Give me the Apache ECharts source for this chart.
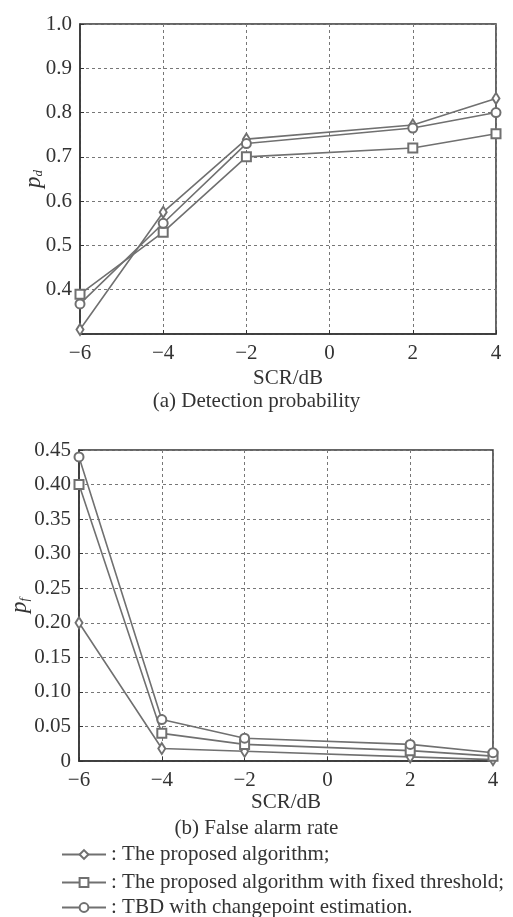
<!DOCTYPE html>
<html><head><meta charset="utf-8">
<script src="https://cdn.jsdelivr.net/npm/echarts@6/dist/echarts.min.js"></script>
<style>html,body{margin:0;padding:0;background:#fff}#c{width:513px;height:917px}</style>
</head><body><div id="c"></div>
<script>
const scr = [-6, -4, -2, 2, 4];
const names = ['The proposed algorithm', 'The proposed algorithm with fixed threshold', 'TBD with changepoint estimation'];
const legendText = [': The proposed algorithm;', ': The proposed algorithm with fixed threshold;', ': TBD with changepoint estimation.'];
const pdProposed = [0.31, 0.575, 0.74, 0.772, 0.832];
const pdFixed = [0.39, 0.53, 0.70, 0.72, 0.752];
const pdTBD = [0.368, 0.55, 0.73, 0.765, 0.80];
const pfProposed = [0.20, 0.018, 0.014, 0.006, 0.002];
const pfFixed = [0.40, 0.04, 0.024, 0.015, 0.007];
const pfTBD = [0.44, 0.06, 0.033, 0.024, 0.012];
const xTicks = [-6, -4, -2, 0, 2, 4];
const pdTicks = [0.4, 0.5, 0.6, 0.7, 0.8, 0.9, 1.0];
const pfTicks = [0, 0.05, 0.10, 0.15, 0.20, 0.25, 0.30, 0.35, 0.40, 0.45];

const FONT = 'Liberation Serif';
const FS = 21;
const GRAY = '#707070';
const symbols = ['emptyDiamond', 'emptyRect', 'emptyCircle'];
const symSizes = [[7, 11], 9, 9];

function pairs(ys) { return scr.map((x, i) => [x, ys[i]]); }
function xAxis(gi, gap) {
  return {
    type: 'value', gridIndex: gi, min: -6, max: 4, interval: 2,
    name: 'SCR/dB', nameLocation: 'middle', nameGap: gap, nameMoveOverlap: false,
    nameTextStyle: { fontFamily: FONT, fontSize: FS, color: '#333' },
    axisLine: { onZero: false, lineStyle: { color: '#333', width: 1.5 } },
    axisTick: { inside: true, length: 4, lineStyle: { color: '#333' } },
    axisLabel: { fontFamily: FONT, fontSize: FS, color: '#333', margin: 9,
      formatter: v => (v < 0 ? '\u2212' + Math.abs(v) : String(v)) },
    splitLine: { show: true, lineStyle: { color: '#777', type: [3, 3], width: 1 } }
  };
}
function yAxis(gi, min, max, interval, fmt, sub, gap) {
  return {
    type: 'value', gridIndex: gi, min: min, max: max, interval: interval,
    name: '{p|p}{s|' + sub + '}', nameLocation: 'middle', nameGap: gap, nameRotate: 90,
    nameMoveOverlap: false,
    nameTextStyle: { rich: {
      p: { fontFamily: FONT, fontStyle: 'italic', fontSize: 23, color: '#333' },
      s: { fontFamily: FONT, fontStyle: 'italic', fontSize: 13, color: '#333', padding: [10, 0, 0, 0] }
    } },
    axisLine: { onZero: false, lineStyle: { color: '#333', width: 1.5 } },
    axisTick: { inside: true, length: 4, lineStyle: { color: '#333' } },
    axisLabel: { fontFamily: FONT, fontSize: FS, color: '#333', margin: 8, formatter: fmt },
    splitLine: { show: true, lineStyle: { color: '#777', type: [3, 3], width: 1 } }
  };
}
function series(gi, data, k) {
  return {
    type: 'line', name: names[k], xAxisIndex: gi, yAxisIndex: gi, data: pairs(data),
    symbol: symbols[k], symbolSize: symSizes[k], showSymbol: true,
    lineStyle: { color: GRAY, width: 1.6 },
    itemStyle: { color: GRAY, borderWidth: 1.3 },
    animation: false, z: 3
  };
}
function legend(k, top) {
  return {
    orient: 'horizontal', left: 56, top: top, itemWidth: 44, itemHeight: 11, itemGap: 0,
    data: [names[k]],
    formatter: n => legendText[names.indexOf(n)],
    textStyle: { fontFamily: FONT, fontSize: FS, color: '#333' },
    selectedMode: false
  };
}

const chart = echarts.init(document.getElementById('c'), null, { renderer: 'canvas' });
chart.setOption({
  backgroundColor: '#fff',
  animation: false,
  title: [
    { text: '(a) Detection probability', left: 'center', top: 386, textStyle: { fontFamily: FONT, fontSize: FS, fontWeight: 'normal', color: '#333' } },
    { text: '(b) False alarm rate', left: 'center', top: 813, textStyle: { fontFamily: FONT, fontSize: FS, fontWeight: 'normal', color: '#333' } }
  ],
  grid: [
    { left: 80, right: 17, top: 24, bottom: 583, show: true, borderColor: '#333', borderWidth: 1.5, backgroundColor: 'transparent', outerBoundsMode: 'none', containLabel: false },
    { left: 79, right: 20, top: 450, bottom: 156, show: true, borderColor: '#333', borderWidth: 1.5, backgroundColor: 'transparent', outerBoundsMode: 'none', containLabel: false }
  ],
  xAxis: [xAxis(0, 34), xAxis(1, 31)],
  yAxis: [
    yAxis(0, 0.3, 1.0, 0.1, v => (Math.abs(v - 0.3) < 1e-6 ? '' : v.toFixed(1)), 'd', 35),
    yAxis(1, 0, 0.45, 0.05, v => (v === 0 ? '0' : v.toFixed(2)), 'f', 48)
  ],
  legend: [legend(0, 839), legend(1, 867), legend(2, 892)],
  series: [
    series(0, pdProposed, 0), series(0, pdFixed, 1), series(0, pdTBD, 2),
    series(1, pfProposed, 0), series(1, pfFixed, 1), series(1, pfTBD, 2)
  ]
});
</script></body></html>
